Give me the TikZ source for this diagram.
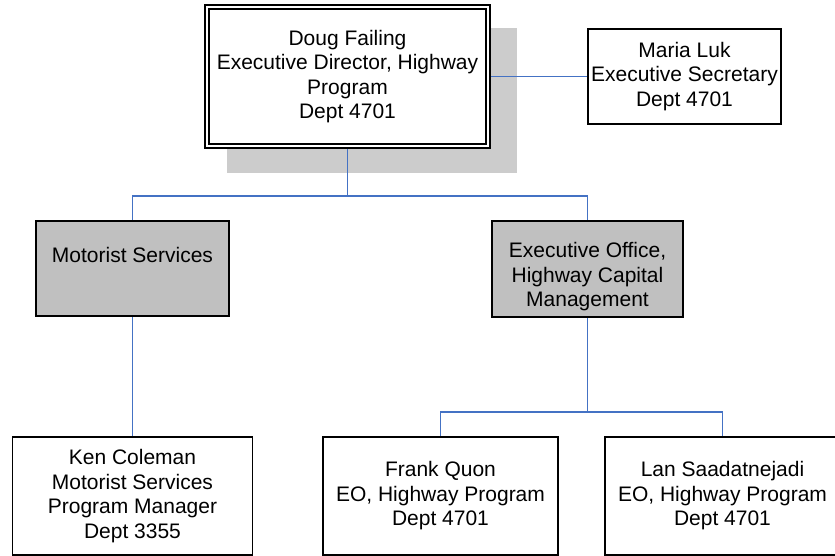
\documentclass[tikz,border=0pt]{standalone}
\usepackage{fontspec}
\setmainfont{Liberation Sans}
\usetikzlibrary{backgrounds}
\definecolor{connblue}{RGB}{68,114,196}
\definecolor{shadowgray}{RGB}{204,204,204}
\definecolor{boxgray}{RGB}{192,192,192}
\begin{document}
\begin{tikzpicture}[x=1pt,y=-1pt,
  chartfont/.style={font=\fontsize{21}{24.5}\selectfont},
  box/.style={draw=black,line width=1.4pt,fill=white,inner sep=0pt,outer sep=0pt,align=center,chartfont},
  graybox/.style={box,fill=boxgray},
  txt/.style={align=center,inner sep=0pt,chartfont},
  conn/.style={draw=connblue,line width=1.8pt}]
\useasboundingbox (0,0) rectangle (835,556);
\clip (0,0) rectangle (835,556);
\begin{scope}[on background layer]
  \fill[shadowgray] (227,28) rectangle (517,173);
\end{scope}

\node[box,double,double distance=2.4pt,line width=1.8pt,minimum width=281pt,minimum height=139pt] (top) at (347.5,76.5)
  {Doug Failing\\Executive Director, Highway\\Program\\Dept 4701};
\node[box,minimum width=193pt,minimum height=95pt] (maria) at (684.5,76.5)
  {Maria Luk\\Executive Secretary\\Dept 4701};
\node[graybox,minimum width=193pt,minimum height=95pt] (ms) at (132.5,268.5) {};
\node[txt] (msT) at (132.5,255) {Motorist Services};
\node[graybox,minimum width=191pt,minimum height=96pt] (eo) at (587.5,269) {};
\node[txt] (eoT) at (587.5,277) {Executive Office,\\Highway Capital\\Management};
\node[box,minimum width=240pt,minimum height=118pt] (ken) at (132.5,496)
  {Ken Coleman\\Motorist Services\\Program Manager\\Dept 3355};
\node[box,minimum width=235pt,minimum height=118pt] (frank) at (440.5,496)
  {Frank Quon\\EO, Highway Program\\Dept 4701};
\node[box,minimum width=235pt,minimum height=118pt] (lan) at (722.5,496)
  {Lan Saadatnejadi\\EO, Highway Program\\Dept 4701};

\begin{scope}[on background layer]
  \draw[conn] (top.south) -- ++(0,50) -| (ms.north);
  \draw[conn] (top.south) -- ++(0,50) -| (eo.north);
  \draw[conn] (top.east) -- (maria.west);
  \draw[conn] (ms.south) -- (ken.north);
  \draw[conn] (eo.south) -- ++(0,95) -| (frank.north);
  \draw[conn] (eo.south) -- ++(0,95) -| (lan.north);
\end{scope}
\end{tikzpicture}
\end{document}
